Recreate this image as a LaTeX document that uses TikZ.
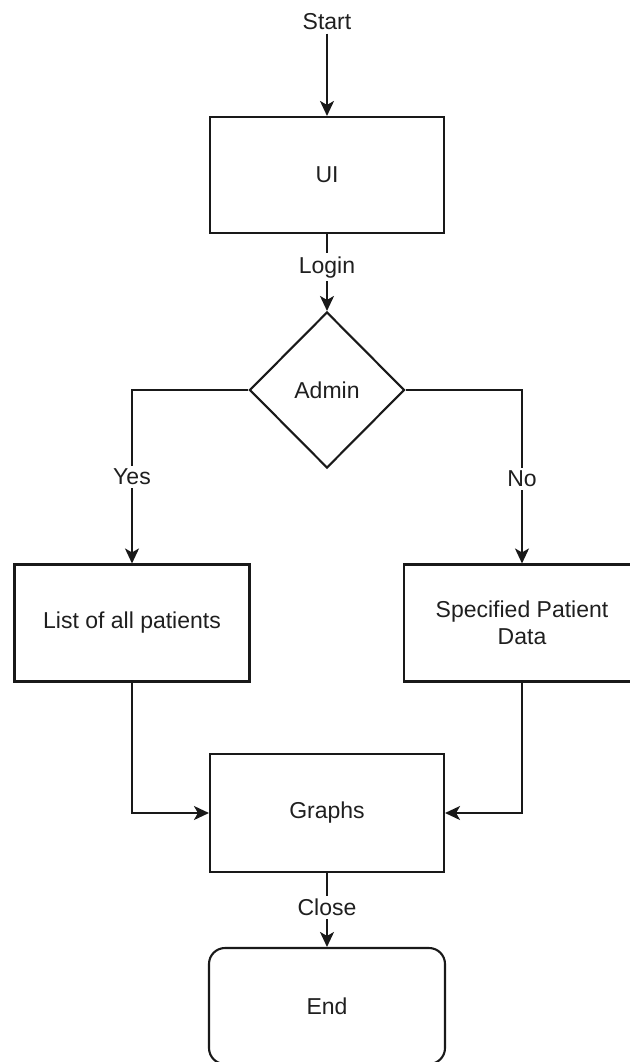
\documentclass[tikz,border=0pt]{standalone}
\usepackage{fontspec}
\setmainfont{Liberation Sans}
\usetikzlibrary{shapes.geometric,arrows.meta}
\begin{document}
\begin{tikzpicture}[x=1pt,y=-1pt,
  every node/.style={font=\fontsize{23}{27}\selectfont, text=black!88},
  box/.style={draw=black!90, line width=2.1pt, rectangle, minimum width=234pt, minimum height=116pt, inner sep=0pt, align=center},
  endbox/.style={box, rounded corners=16pt},
  dec/.style={draw=black!90, line width=2.1pt, diamond, minimum width=155pt, minimum height=156pt, inner sep=0pt},
  lbl/.style={fill=white, inner sep=3pt},
  arr/.style={draw=black!90, line width=2.1pt, -{Stealth[length=15pt,width=14pt,inset=4pt]}}
]
\useasboundingbox (0,0) rectangle (629,1062);
\node (start) at (327,22) {Start};
\node[box] (ui) at (327,175) {UI};
\node[dec] (admin) at (327,390) {Admin};
\node[box, minimum width=235pt, minimum height=117pt] (list) at (132,623) {List of all patients};
\node[box, minimum width=236pt, minimum height=117pt] (spec) at (522,623) {Specified Patient\\Data};
\node[box, minimum height=118pt] (graphs) at (327,813) {Graphs};
\node[endbox, minimum width=236pt] (end) at (327,1006) {End};

\draw[arr] (start.south) -- (ui.north);
\draw[arr] (ui.south) -- node[lbl, pos=0.43] {Login} (admin.north);
\draw[arr] (admin.west) -| node[lbl, pos=0.75] {Yes} (list.north);
\draw[arr] (admin.east) -| node[lbl, pos=0.757] {No} (spec.north);
\draw[arr] (list.south) |- (graphs.west);
\draw[arr] (spec.south) |- (graphs.east);
\draw[arr] (graphs.south) -- node[lbl, pos=0.46] {Close} (end.north);
\end{tikzpicture}
\end{document}
